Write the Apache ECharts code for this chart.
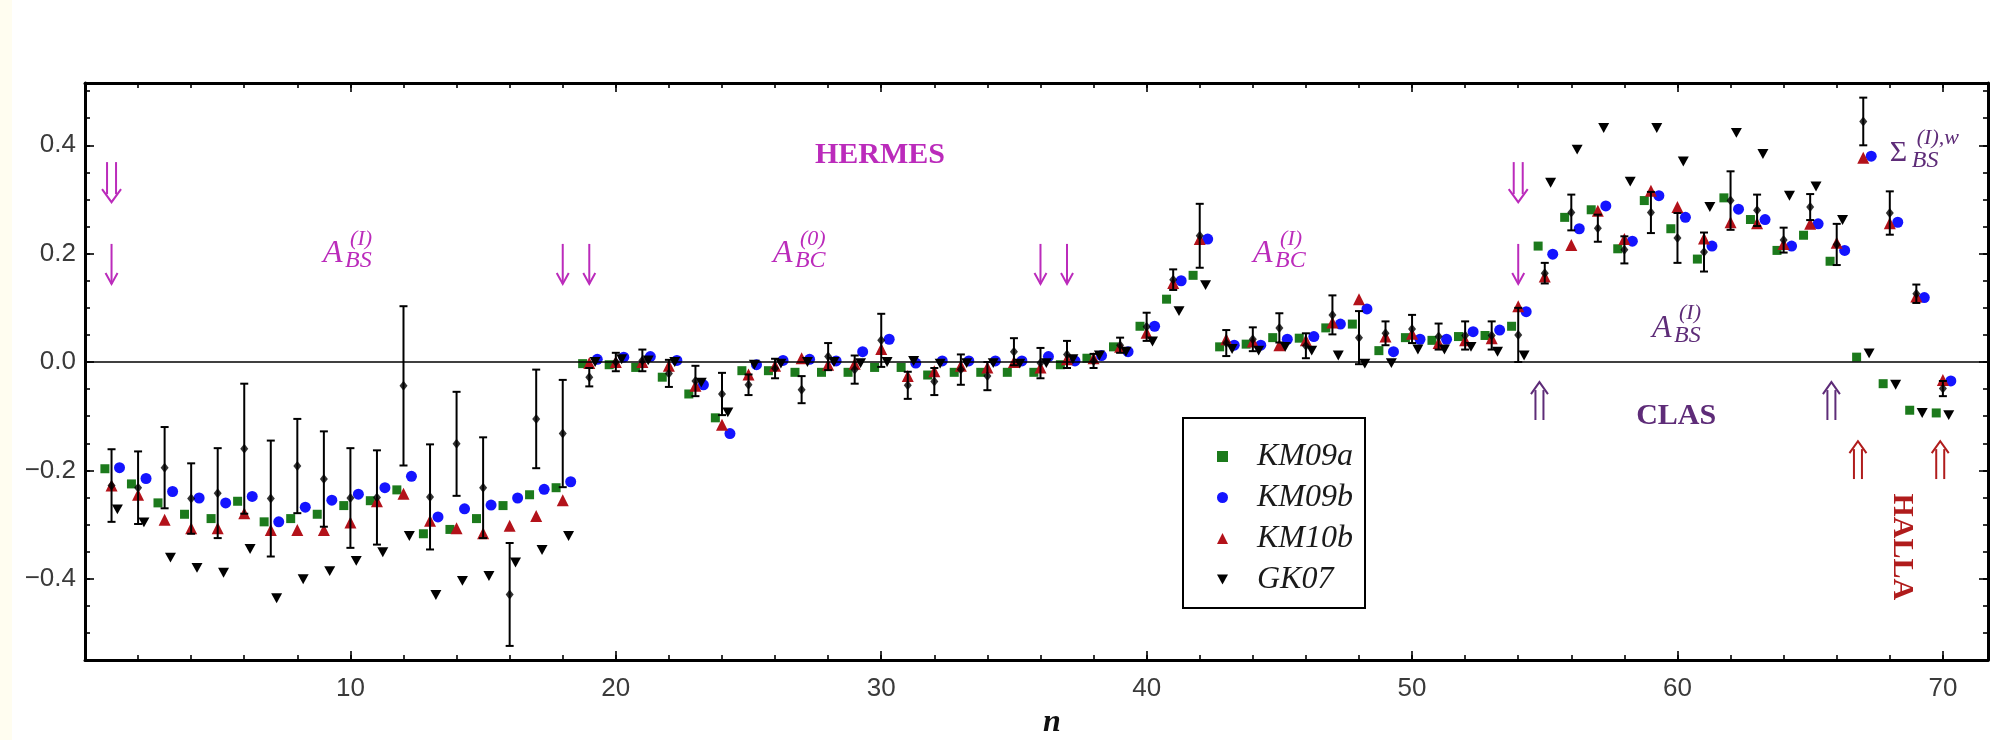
<!DOCTYPE html>
<html><head><meta charset="utf-8">
<script src="https://cdn.jsdelivr.net/npm/echarts@6/dist/echarts.min.js"></script>
<style>html,body{margin:0;padding:0;background:#fff}#c{width:2007px;height:740px}</style>
</head><body><div id="c"></div>
<script>
// ---------------- data ----------------
const nVals = [1,2,3,4,5,6,7,8,9,10,11,12,13,14,15,16,17,18,19,20,21,22,23,24,25,26,27,28,29,30,31,32,33,34,35,36,37,38,39,40,41,42,43,44,45,46,47,48,49,50,51,52,53,54,55,56,57,58,59,60,61,62,63,64,65,66,67,68,69,70];

const km09a = [-0.197,-0.225,-0.260,-0.281,-0.289,-0.257,-0.295,-0.289,-0.281,-0.265,
  -0.256,-0.236,-0.317,-0.309,-0.289,-0.265,-0.245,-0.232,-0.003,-0.005,
  -0.010,-0.028,-0.059,-0.103,-0.016,-0.016,-0.019,-0.019,-0.019,-0.010,
  -0.010,-0.024,-0.019,-0.019,-0.019,-0.019,-0.005,0.007,0.028,0.066,
  0.116,0.160,0.028,0.033,0.045,0.044,0.063,0.070,0.021,0.045,
  0.040,0.047,0.049,0.066,0.214,0.267,0.281,0.209,0.298,0.246,
  0.190,0.303,0.263,0.206,0.234,0.186,0.009,-0.040,-0.089,-0.094];

const km09b = [-0.195,-0.215,-0.239,-0.251,-0.260,-0.248,-0.295,-0.268,-0.255,-0.244,
  -0.232,-0.211,-0.286,-0.271,-0.264,-0.251,-0.235,-0.221,0.005,0.009,
  0.010,0.003,-0.042,-0.132,-0.005,0.003,0.005,0.002,0.019,0.042,
  -0.002,0.002,0.002,0.002,0.002,0.010,0.002,0.012,0.019,0.066,
  0.150,0.227,0.031,0.031,0.042,0.047,0.070,0.098,0.019,0.042,
  0.042,0.056,0.059,0.093,0.199,0.246,0.288,0.223,0.307,0.267,
  0.214,0.282,0.263,0.214,0.255,0.206,0.380,0.258,0.119,-0.035];

const km10b = [-0.228,-0.245,-0.291,-0.307,-0.307,-0.279,-0.310,-0.310,-0.310,-0.296,
  -0.257,-0.243,-0.293,-0.307,-0.316,-0.302,-0.284,-0.255,-0.002,0.000,
  0.000,-0.007,-0.044,-0.116,-0.023,-0.007,0.007,-0.005,-0.003,0.024,
  -0.026,-0.017,-0.007,-0.010,0.000,-0.010,0.005,0.007,0.028,0.054,
  0.146,0.227,0.042,0.038,0.031,0.040,0.073,0.116,0.047,0.052,
  0.035,0.040,0.044,0.103,0.158,0.216,0.279,0.227,0.316,0.286,
  0.228,0.258,0.256,0.218,0.255,0.220,0.377,0.256,0.121,-0.033];

const gk07 = [-0.272,-0.296,-0.361,-0.380,-0.389,-0.345,-0.436,-0.401,-0.386,-0.367,
  -0.351,-0.321,-0.430,-0.404,-0.395,-0.370,-0.347,-0.321,0.000,0.005,
  0.003,0.000,-0.038,-0.093,-0.005,-0.003,0.000,0.000,-0.002,0.000,
  0.002,-0.003,-0.002,-0.002,-0.003,-0.002,0.005,0.012,0.019,0.038,
  0.094,0.142,0.024,0.021,0.028,0.021,0.012,-0.003,-0.002,0.023,
  0.023,0.028,0.019,0.012,0.331,0.392,0.432,0.333,0.432,0.370,
  0.286,0.423,0.384,0.307,0.324,0.262,0.016,-0.042,-0.094,-0.098];

const expVal = [-0.228,-0.232,-0.195,-0.252,-0.242,-0.160,-0.252,-0.192,-0.216,-0.251,
  -0.250,-0.044,-0.249,-0.151,-0.232,-0.429,-0.105,-0.132,-0.028,0.000,
  0.003,-0.021,-0.035,-0.059,-0.042,-0.012,-0.051,0.010,-0.014,0.040,
  -0.043,-0.036,-0.014,-0.026,0.019,-0.002,0.014,0.002,0.031,0.065,
  0.152,0.233,0.035,0.042,0.063,0.030,0.087,0.045,0.053,0.061,
  0.047,0.049,0.049,0.050,0.164,0.276,0.247,0.207,0.276,0.229,
  0.203,0.298,0.280,0.225,0.286,0.217,0.444,0.275,0.126,-0.049];

const expErr = [0.067,0.067,0.075,0.065,0.083,0.120,0.107,0.087,0.088,0.092,
  0.087,0.147,0.097,0.096,0.093,0.095,0.091,0.099,0.017,0.017,
  0.020,0.025,0.028,0.039,0.019,0.018,0.025,0.025,0.026,0.049,
  0.025,0.025,0.028,0.026,0.025,0.028,0.025,0.013,0.014,0.026,
  0.019,0.059,0.024,0.022,0.027,0.023,0.036,0.049,0.022,0.026,
  0.024,0.026,0.026,0.050,0.019,0.033,0.025,0.025,0.038,0.046,
  0.036,0.054,0.029,0.023,0.024,0.038,0.044,0.040,0.017,0.014];

const yTickValues = [-0.4,-0.2,0,0.2,0.4];
const yTickLabels = ['\u22120.4','\u22120.2','0.0','0.2','0.4'];
const xTickValues = [10,20,30,40,50,60,70];
const xTickLabels = ['10','20','30','40','50','60','70'];

// annotation anchors (data coordinates)
const hermesSingle = [1,18,19,36,37,54];
const hermesDouble = [1,54];
const clasUp = [54.8,65.8];
const hallaUp = [66.8,69.9];

// ---------------- style ----------------
const OFF = {a:-0.25, b:0.30, c:0.0, g:0.22};
const MAG = '#bb2bbb', PUR = '#5e2c78', DRED = '#b01c1c';

const chart = echarts.init(document.getElementById('c'), null, {renderer:'canvas'});

const X = {min:0, max:71.7};
const Y = {min:-0.55, max:0.515};
const tickStyle = {color:'#000', width:1.6};

function xAx(pos, interval, len, withLine, withLabel) {
  return {
    type:'value', position:pos, min:X.min, max:X.max, interval:interval,
    axisLine:{show:withLine, onZero:false, lineStyle:{color:'#000', width:3}},
    axisTick:{show:true, inside:true, length:len, lineStyle:tickStyle},
    axisLabel:{show:withLabel, showMinLabel:false, showMaxLabel:false, margin:16,
      fontFamily:'Liberation Sans', fontSize:26, color:'#3a3a3a',
      formatter:v => { const k = xTickValues.indexOf(Math.round(v)); return (k>=0 && Math.abs(v-Math.round(v))<1e-6) ? xTickLabels[k] : ''; }},
    splitLine:{show:false}
  };
}
function yAx(pos, minor, withLine, withLabel) {
  const o = {
    type:'value', position:pos, min:Y.min, max:Y.max,
    axisLine:{show:withLine, onZero:false, lineStyle:{color:'#000', width:3}},
    axisTick:{show:true, inside:true, length: minor ? 5 : 9, lineStyle:tickStyle},
    axisLabel:{show:withLabel, showMinLabel:false, showMaxLabel:false, margin:9,
      fontFamily:'Liberation Sans', fontSize:26, color:'#3a3a3a',
      formatter:v => { for (let i=0;i<yTickValues.length;i++){ if (Math.abs(v-yTickValues[i])<1e-6) return yTickLabels[i]; } return ''; }},
    splitLine:{show:false}
  };
  if (minor) o.interval = 0.05; else { o.splitNumber = 5; o.axisTick.customValues = yTickValues; }
  return o;
}

const sym = (name, symbol, size, color, arr, off, extra) => Object.assign({
  name, type:'scatter', symbol, symbolSize:size, symbolKeepAspect:true, itemStyle:{color, opacity:1},
  xAxisIndex:0, yAxisIndex:0, z:3,
  data: nVals.map((n,i)=>[n+off, arr[i]])
}, extra||{});

const DOWN_TRI = 'path://M0,0 L10,0 L5,9 Z';

const option = {
  animation:false,
  backgroundColor:'#ffffff',
  grid:{left:85, right:19, top:83, bottom:80, containLabel:false, outerBoundsMode:'none'},
  xAxis:[ xAx('bottom',10,9,true,true), xAx('bottom',2,5,false,false), xAx('top',10,9,true,false), xAx('top',2,5,false,false) ],
  yAxis:[ yAx('left',true,true,true), yAx('right',true,true,false), yAx('left',false,false,false), yAx('right',false,false,false) ],
  legend:{
    data:[
      {name:'KM09a', icon:'rect'},
      {name:'KM09b', icon:'circle'},
      {name:'KM10b', icon:'triangle'},
      {name:'GK07', icon:DOWN_TRI}
    ],
    orient:'vertical', left:1183, top:418,
    padding:[22,12,12,34], itemWidth:11, itemHeight:11, itemGap:8,
    symbolKeepAspect:true,
    borderColor:'#000', borderWidth:2, backgroundColor:'#fff',
    textStyle:{fontFamily:'Liberation Serif', fontStyle:'italic', fontSize:32, lineHeight:33, color:'#1a1a1a', padding:[0,0,0,24]},
    selectedMode:false
  },
  series:[
    sym('KM09a','rect',9,'#1c7a1c',km09a,OFF.a),
    sym('KM09b','circle',11,'#1414ff',km09b,OFF.b),
    sym('KM10b','triangle',12,'#b3121a',km10b,OFF.c),
    sym('GK07',DOWN_TRI,11,'#000000',gk07,OFF.g),
    {
      name:'errbars', type:'custom', xAxisIndex:0, yAxisIndex:0, z:4,
      data: nVals.map((n,i)=>[n, expVal[i]-expErr[i], expVal[i]+expErr[i]]),
      encode:{x:0, y:[1,2]},
      renderItem:(params, api) => {
        const x = api.value(0), lo = api.value(1), hi = api.value(2);
        const p1 = api.coord([x,hi]), p2 = api.coord([x,lo]);
        const cw = 4, st = {stroke:'#000', lineWidth:2};
        return {type:'group', children:[
          {type:'line', shape:{x1:p1[0],y1:p1[1],x2:p2[0],y2:p2[1]}, style:st},
          {type:'line', shape:{x1:p1[0]-cw,y1:p1[1],x2:p1[0]+cw,y2:p1[1]}, style:st},
          {type:'line', shape:{x1:p2[0]-cw,y1:p2[1],x2:p2[0]+cw,y2:p2[1]}, style:st}
        ]};
      }
    },
    {
      name:'exp', type:'scatter', symbol:'diamond', symbolSize:[8,10], itemStyle:{color:'#000'},
      xAxisIndex:0, yAxisIndex:0, z:5,
      data: nVals.map((n,i)=>[n, expVal[i]]),
      markLine:{silent:true, symbol:'none', label:{show:false}, animation:false,
        lineStyle:{color:'#000', width:1.5, type:'solid'}, data:[{yAxis:0}]}
    }
  ]
};
chart.setOption(option);

// ---------------- annotations ----------------
const px = (x,y) => chart.convertToPixel({xAxisIndex:0, yAxisIndex:0}, [x,y]);
const G = [];
G.push({type:'rect', shape:{x:0,y:0,width:12,height:740}, style:{fill:'#fffdf0'}, z:-10, silent:true});

function line(points, color, w) { return {type:'polyline', shape:{points}, style:{stroke:color, lineWidth:w||2, fill:null}, z:10, silent:true}; }
function downArrow(n, yt, yb, color) {
  const [cx, t] = px(n, yt); const b = px(n, yb)[1];
  G.push(line([[cx,t],[cx,b]], color));
  G.push(line([[cx-6,b-11],[cx,b],[cx+6,b-11]], color));
}
function doubleDown(n, yt, yb, color) {
  const [cx, t] = px(n, yt); const b = px(n, yb)[1];
  G.push(line([[cx-4.5,t],[cx-4.5,b-8]], color));
  G.push(line([[cx+4.5,t],[cx+4.5,b-8]], color));
  G.push(line([[cx-9.5,b-13],[cx,b],[cx+9.5,b-13]], color));
}
function doubleUp(n, yt, yb, color) {
  const [cx, t] = px(n, yt); const b = px(n, yb)[1];
  G.push(line([[cx-4,t+8],[cx-4,b]], color));
  G.push(line([[cx+4,t+8],[cx+4,b]], color));
  G.push(line([[cx-8.5,t+12],[cx,t],[cx+8.5,t+12]], color));
}
hermesSingle.forEach(n => downArrow(n, 0.218, 0.144, MAG));
hermesDouble.forEach(n => doubleDown(n, 0.369, 0.295, MAG));
clasUp.forEach(n => doubleUp(n, -0.037, -0.107, PUR));
hallaUp.forEach(n => doubleUp(n, -0.146, -0.216, DRED));

function txt(x, y, text, font, color, align, extra) {
  return Object.assign({type:'text', x, y, z:10, silent:true,
    style:{text, font, fill:color, align:align||'left', textAlign:align||'left', verticalAlign:'middle', textVerticalAlign:'middle'}}, extra||{});
}
function labelAX(n, yb, main, sub, sup, color, mainFont) {
  const [x0, b] = px(n, yb);
  G.push(txt(x0, b-11, main, mainFont || 'italic 32px "Liberation Serif"', color));
  G.push(txt(x0+27, b-26, sup, 'italic 22px "Liberation Serif"', color));
  G.push(txt(x0+22, b-4, sub, 'italic 24px "Liberation Serif"', color));
}
labelAX(8.97, 0.179, 'A', 'BS', '(I)', MAG);
labelAX(25.92, 0.179, 'A', 'BC', '(0)', MAG);
labelAX(44.01, 0.179, 'A', 'BC', '(I)', MAG);
labelAX(59.04, 0.042, 'A', 'BS', '(I)', PUR);
labelAX(68.0, 0.365, '\u03A3', 'BS', '(I),w', PUR, '30px "Liberation Serif"');

let p = px(29.95, 0.382); G.push(txt(p[0], p[1], 'HERMES', 'bold 30px "Liberation Serif"', MAG, 'center'));
p = px(59.95, -0.100); G.push(txt(p[0], p[1], 'CLAS', 'bold 30px "Liberation Serif"', PUR, 'center'));
p = px(68.46, -0.341); G.push({type:'text', x:p[0], y:p[1], rotation:-Math.PI/2, z:10, silent:true,
  style:{text:'HALLA', font:'bold 30px "Liberation Serif"', fill:DRED, align:'center', textAlign:'center', verticalAlign:'middle', textVerticalAlign:'middle'}});
G.push(txt(1052, 723, 'n', 'bold italic 32px "Liberation Serif"', '#111', 'center'));

chart.setOption({graphic:G});
</script></body></html>
